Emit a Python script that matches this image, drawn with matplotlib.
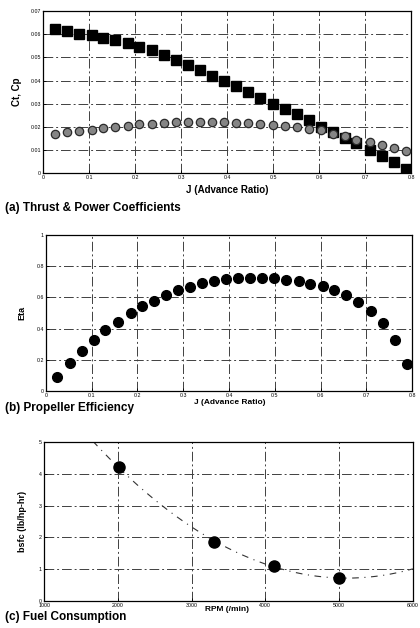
import numpy as np
import matplotlib.pyplot as plt

# advance ratio J (shared by panels a and b)
J = [0.025, 0.052, 0.078, 0.105, 0.130, 0.157, 0.185, 0.209, 0.237, 0.262,
     0.288, 0.315, 0.341, 0.367, 0.393, 0.419, 0.446, 0.472, 0.499, 0.525,
     0.552, 0.577, 0.605, 0.630, 0.656, 0.681, 0.710, 0.736, 0.762, 0.788]

Ct = [0.0622, 0.0613, 0.0602, 0.0596, 0.0582, 0.0575, 0.0560, 0.0546, 0.0532, 0.0510,
      0.0489, 0.0467, 0.0445, 0.0421, 0.0397, 0.0376, 0.0352, 0.0326, 0.0300, 0.0277,
      0.0254, 0.0230, 0.0201, 0.0177, 0.0151, 0.0129, 0.0101, 0.0075, 0.0050, 0.0019]

Cp = [0.0170, 0.0177, 0.0182, 0.0188, 0.0194, 0.0200, 0.0205, 0.0211, 0.0214, 0.0218,
      0.0220, 0.0223, 0.0223, 0.0220, 0.0220, 0.0217, 0.0217, 0.0214, 0.0207, 0.0203,
      0.0198, 0.0191, 0.0185, 0.0171, 0.0159, 0.0145, 0.0136, 0.0122, 0.0111, 0.0096]

Eta = [0.090, 0.178, 0.256, 0.330, 0.390, 0.445, 0.498, 0.542, 0.580, 0.615,
       0.645, 0.668, 0.690, 0.705, 0.716, 0.725, 0.727, 0.727, 0.722, 0.714,
       0.703, 0.688, 0.671, 0.645, 0.613, 0.570, 0.513, 0.438, 0.329, 0.176]

rpm = [2010, 3308, 4113, 5000]
bsfc = [4.21, 1.86, 1.105, 0.705]

ct_ticks = [0, 0.01, 0.02, 0.03, 0.04, 0.05, 0.06, 0.07]
ct_labels = ['0', '0.01', '0.02', '0.03', '0.04', '0.05', '0.06', '0.07']
j_ticks = [0, 0.1, 0.2, 0.3, 0.4, 0.5, 0.6, 0.7, 0.8]
j_labels = ['0', '0.1', '0.2', '0.3', '0.4', '0.5', '0.6', '0.7', '0.8']
eta_ticks = [0, 0.2, 0.4, 0.6, 0.8, 1]
eta_labels = ['0', '0.2', '0.4', '0.6', '0.8', '1']
rpm_ticks = [1000, 2000, 3000, 4000, 5000, 6000]
bsfc_ticks = [0, 1, 2, 3, 4, 5]

plt.rcParams['font.family'] = ['Liberation Sans', 'DejaVu Sans']

fig = plt.figure(figsize=(4.2, 6.28), dpi=100)
grid_ls = (0, (10, 3, 2, 3))


def style(ax):
    ax.grid(True, color='0.25', linestyle=grid_ls, linewidth=0.7)
    ax.tick_params(direction='in', length=2, labelsize=3.8, pad=1.5, width=0.6)
    for s in ax.spines.values():
        s.set_linewidth(0.9)


# (a) thrust & power coefficients
ax1 = fig.add_axes([0.103, 0.724, 0.876, 0.2585])
ax1.plot(J, Ct, 's', color='black', markersize=6.5, zorder=3)
ax1.plot(J, Cp, 'o', markerfacecolor='#858585', markeredgecolor='#2a2a2a',
         markeredgewidth=0.9, markersize=6, zorder=3)
ax1.set_xlim(0, 0.8)
ax1.set_ylim(0, 0.07)
ax1.set_xticks(j_ticks, j_labels)
ax1.set_yticks(ct_ticks, ct_labels)
ax1.set_ylabel('Ct, Cp', fontsize=7, fontweight='bold', labelpad=6)
ax1.set_xlabel('J (Advance Ratio)', fontsize=7, fontweight='bold', labelpad=3)
style(ax1)
fig.text(0.012, 0.669, '(a) Thrust & Power Coefficients', fontsize=8.5,
         fontweight='bold', va='center')

# (b) propeller efficiency
ax2 = fig.add_axes([0.1095, 0.3774, 0.8715, 0.2484])
ax2.plot(J, Eta, 'o', color='black', markersize=7, zorder=3)
ax2.set_xlim(0, 0.8)
ax2.set_ylim(0, 1)
ax2.set_xticks(j_ticks, j_labels)
ax2.set_yticks(eta_ticks, eta_labels)
ax2.set_ylabel('Eta', fontsize=6.5, fontweight='bold', labelpad=7)
style(ax2)
fig.text(0.548, 0.359, 'J (Advance Ratio)', fontsize=6, fontweight='bold',
         ha='center', va='center')
fig.text(0.012, 0.350, '(b) Propeller Efficiency', fontsize=8.5,
         fontweight='bold', va='center')

# (c) fuel consumption
ax3 = fig.add_axes([0.105, 0.0435, 0.878, 0.2522])
coef = np.polyfit(np.array(rpm) / 1000.0, bsfc, 2)
xs = np.linspace(1000, 6000, 200)
ax3.plot(xs, np.polyval(coef, xs / 1000.0), color='0.2', linewidth=0.8,
         linestyle=(0, (6, 5, 1, 5)), zorder=2)
ax3.plot(rpm, bsfc, 'o', color='black', markersize=8, zorder=3)
ax3.set_xlim(1000, 6000)
ax3.set_ylim(0, 5)
ax3.set_xticks(rpm_ticks)
ax3.set_yticks(bsfc_ticks)
ax3.set_ylabel('bsfc (lb/hp-hr)', fontsize=6.5, fontweight='bold', labelpad=9)
style(ax3)
fig.text(0.54, 0.030, 'RPM (/min)', fontsize=6, fontweight='bold',
         ha='center', va='center')
fig.text(0.012, 0.018, '(c) Fuel Consumption', fontsize=8.5,
         fontweight='bold', va='center')

fig.savefig('out.png', dpi=100)
